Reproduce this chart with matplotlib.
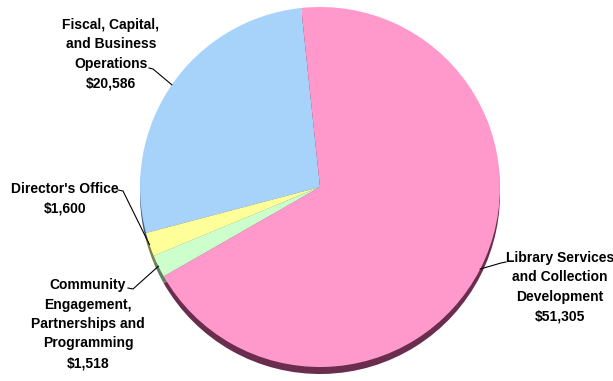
import numpy as np
import matplotlib
matplotlib.use('Agg')
import matplotlib.pyplot as plt
from matplotlib import font_manager

# data, in pie order (counter-clockwise from the top)
labels = ['Fiscal, Capital,\nand Business\nOperations\n$20,586',
          "Director's Office\n$1,600",
          'Community\nEngagement,\nPartnerships and\nProgramming\n$1,518',
          'Library Services\nand Collection\nDevelopment\n$51,305']
values = [20586, 1600, 1518, 51305]
colors = ['#a7d3fa', '#ffff99', '#ccffcc', '#ff99cc']
rim_colors = ['#3d5f80', '#80804a', '#5f7f5f', '#6b2d4e']

names = {f.name for f in font_manager.fontManager.ttflist}
if 'Liberation Sans Narrow' in names:
    fam, fsize = 'Liberation Sans Narrow', 12
else:
    fam, fsize = 'Liberation Sans', 10

W, H = 613, 381
fig = plt.figure(figsize=(W / 100, H / 100), dpi=100)
ax = fig.add_axes([0, 0, 1, 1])

cx, cy, r = 320, H - 187, 180
start = 96

# depth / shadow underneath
ax.pie(values, colors=rim_colors, startangle=start, counterclock=True,
       center=(cx, cy - 7), radius=r, wedgeprops=dict(edgecolor='none'))
wedges, _ = ax.pie(values, colors=colors, startangle=start, counterclock=True,
                   center=(cx, cy), radius=r,
                   wedgeprops=dict(edgecolor='none', linewidth=0))

ax.set_xlim(0, W)
ax.set_ylim(0, H)
ax.set_aspect('equal')
ax.axis('off')

# label text centre (px from top-left), leader start, hook direction
text_pos = [(111, 54), (65, 199), (88, 324), (560, 287)]
lead_start = [(149, 68), (118, 190), (128, 288), (506, 262)]
hooks = [4, 5, 5, -5]

for w, lab, (tx, ty), (lx, ly), hk in zip(wedges, labels, text_pos, lead_start, hooks):
    mid = np.deg2rad((w.theta1 + w.theta2) / 2)
    ex = cx + r * np.cos(mid)
    ey = cy + r * np.sin(mid)
    ax.text(tx, H - ty, lab, ha='center', va='center', family=fam,
            fontsize=fsize, fontweight='bold', linespacing=1.5, color='black')
    ax.plot([lx, lx + hk, ex], [H - ly, H - ly - 1, ey], color='black', lw=0.8)

fig.savefig('out.png', dpi=100, facecolor='white')
